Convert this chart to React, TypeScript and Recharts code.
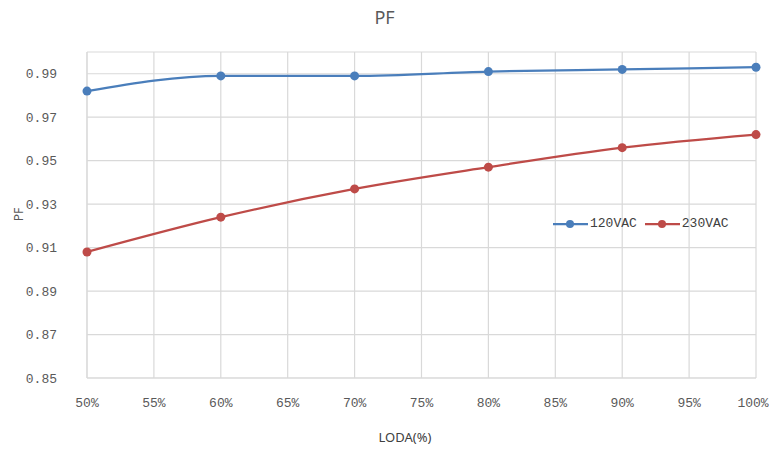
import { LineChart, Line, XAxis, YAxis, CartesianGrid } from "recharts";

// load (%) on the x axis
const loads = [50, 60, 70, 80, 90, 100];
// power factor
const pf120 = [0.982, 0.989, 0.989, 0.991, 0.992, 0.993];
const pf230 = [0.908, 0.924, 0.937, 0.947, 0.956, 0.962];
const seriesNames = ["120VAC", "230VAC"];

const xTicks = [50, 55, 60, 65, 70, 75, 80, 85, 90, 95, 100];
const yTicks = [0.85, 0.87, 0.89, 0.91, 0.93, 0.95, 0.97, 0.99, 1.0];

const data = loads.map((load, i) => ({
  load,
  v120: pf120[i],
  v230: pf230[i],
}));

const BLUE = "#4a7ebb";
const RED = "#be4b48";
const colors = [BLUE, RED];
const tickFont = { fontFamily: "Liberation Mono", fontSize: 13, fill: "#595959" };

// x tick: last label pulled in a bit so it stays inside the window
const XTick = (props: any) => {
  const { x, y, payload } = props;
  const last = payload.value === 100;
  return (
    <text x={last ? x - 3 : x} y={y} dy="0.71em" textAnchor="middle" {...tickFont}>
      {`${payload.value}%`}
    </text>
  );
};

export default function App() {
  return (
    <div style={{ position: "absolute", left: 0, top: 0, width: 769, height: 450, background: "#fff" }}>
      <div style={{ position: "absolute", left: 0, width: 769, top: 5, textAlign: "center", fontFamily: "Noto Sans", fontSize: 18, color: "#595959" }}>
        PF
      </div>
      <div
        style={{
          position: "absolute",
          left: 12,
          top: 206,
          transform: "rotate(-90deg)",
          fontFamily: "Noto Sans",
          fontSize: 12,
          color: "#595959",
        }}
      >
        PF
      </div>
      <div style={{ position: "absolute", left: 360, width: 90, top: 428, textAlign: "center", fontFamily: "Noto Sans", fontSize: 13, color: "#404040" }}>
        LODA(%)
      </div>
      <LineChart width={769} height={450} data={data} margin={{ top: 52, right: 13, bottom: 0, left: 0 }}>
        <CartesianGrid stroke="#d9d9d9" strokeWidth={1.2} horizontal vertical />
        <XAxis
          dataKey="load"
          type="number"
          domain={[50, 100]}
          ticks={xTicks}
          axisLine={{ stroke: "#d9d9d9" }}
          tickLine={false}
          tickSize={0}
          tickMargin={20}
          tick={<XTick />}
          height={72}
          interval={0}
        />
        <YAxis
          type="number"
          domain={[0.85, 1.0]}
          ticks={yTicks}
          tickFormatter={(v: number) => (v >= 0.999 ? "" : v.toFixed(2))}
          axisLine={{ stroke: "#d9d9d9" }}
          tickLine={false}
          tickSize={0}
          tickMargin={30}
          tick={tickFont}
          width={87}
          interval={0}
        />
        <Line
          type="monotone"
          dataKey="v120"
          name={seriesNames[0]}
          stroke={BLUE}
          strokeWidth={2.25}
          dot={{ r: 4.5, fill: BLUE, stroke: BLUE, strokeWidth: 0 }}
          isAnimationActive={false}
        />
        <Line
          type="monotone"
          dataKey="v230"
          name={seriesNames[1]}
          stroke={RED}
          strokeWidth={2.25}
          dot={{ r: 4.5, fill: RED, stroke: RED, strokeWidth: 0 }}
          isAnimationActive={false}
        />
      </LineChart>
      <div
        style={{
          position: "absolute",
          left: 553,
          top: 216,
          display: "flex",
          alignItems: "center",
          fontFamily: "Liberation Mono",
          fontSize: 13,
          color: "#404040",
        }}
      >
        {seriesNames.map((name, i) => (
          <div key={name} style={{ display: "flex", alignItems: "center", marginRight: 8 }}>
            <svg width={35} height={10} style={{ marginRight: 2 }}>
              <line x1={0} y1={5} x2={35} y2={5} stroke={colors[i]} strokeWidth={2.25} />
              <circle cx={17} cy={5} r={4} fill={colors[i]} />
            </svg>
            <span>{name}</span>
          </div>
        ))}
      </div>
    </div>
  );
}
